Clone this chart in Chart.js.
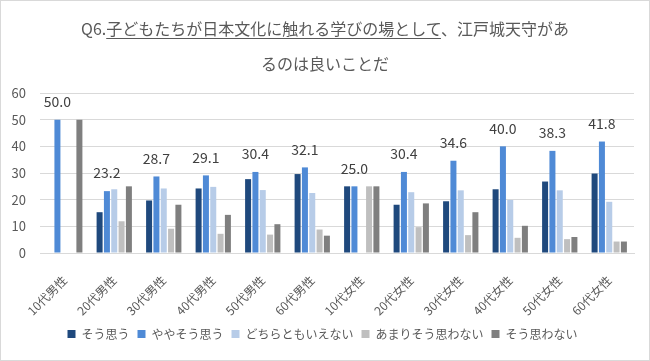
<!DOCTYPE html>
<html>
<head>
<meta charset="utf-8">
<script src="https://cdn.jsdelivr.net/npm/chart.js@4"></script>
<style>
  body { margin: 0; background: #fff; }
  #wrap { position: relative; width: 650px; height: 361px; box-sizing: border-box; border: 1px solid #D9D9D9; background: #fff; }
  #title { position: absolute; left: 0; top: 10px; width: 100%; text-align: center; color: #595959;
           font-family: "Noto Sans CJK JP", sans-serif; font-size: 16px; line-height: 35px; }
  #title u { text-decoration-thickness: 1px; text-underline-offset: 3px; }
  #box { position: absolute; left: 0; top: 0; width: 648px; height: 359px; }
</style>
</head>
<body>
<div id="wrap">
  <div id="box"><canvas id="grafico"></canvas></div>
  <div id="title">
    <div>Q6.<u>子どもたちが日本文化に触れる学びの場として</u>、江戸城天守があ</div>
    <div>るのは良いことだ</div>
  </div>
</div>
<script>
// 回答者区分
const labelsGrupos = ['10代男性', '20代男性', '30代男性', '40代男性', '50代男性', '60代男性',
                      '10代女性', '20代女性', '30代女性', '40代女性', '50代女性', '60代女性'];

// 回答ごとの割合 (%)
const valoresSou      = [0, 15.3, 19.7, 24.2, 27.7, 29.6, 25.0, 18.1, 19.4, 23.9, 26.8, 29.8];
const valoresYaya     = [50.0, 23.2, 28.7, 29.1, 30.4, 32.1, 25.0, 30.4, 34.6, 40.0, 38.3, 41.8];
const valoresDochira  = [0, 23.9, 24.2, 24.8, 23.6, 22.5, 0, 22.8, 23.5, 19.9, 23.5, 19.2];
const valoresAmari    = [0, 11.9, 9.1, 7.2, 6.9, 8.8, 25.0, 9.7, 6.7, 5.7, 5.2, 4.3];
const valoresOmowanai = [50.0, 25.0, 18.1, 14.3, 10.8, 6.5, 25.0, 18.6, 15.3, 10.2, 6.0, 4.3];

const nomesSeries = ['そう思う', 'ややそう思う', 'どちらともいえない', 'あまりそう思わない', 'そう思わない'];
const ticksY = [0, 10, 20, 30, 40, 50, 60];

const fonte = '"Noto Sans CJK JP", sans-serif';

// ややそう思う の値だけ棒の上に表示
const rotuloPlugin = {
    id: 'rotuloYaya',
    afterDatasetsDraw(chart) {
        const ctx = chart.ctx;
        const meta = chart.getDatasetMeta(1);
        ctx.save();
        ctx.font = '14px ' + fonte;
        ctx.fillStyle = '#404040';
        ctx.textAlign = 'center';
        ctx.textBaseline = 'middle';
        meta.data.forEach((bar, i) => {
            ctx.fillText(valoresYaya[i].toFixed(1), bar.x, bar.y - 18);
        });
        ctx.restore();
    }
};

function generateChart() {
    const ctx = document.getElementById('grafico').getContext('2d');
    const cores = ['#1F497D', '#4F8AD6', '#B7CCE8', '#BFBFBF', '#7F7F7F'];
    const valores = [valoresSou, valoresYaya, valoresDochira, valoresAmari, valoresOmowanai];
    new Chart(ctx, {
        type: 'bar',
        data: {
            labels: labelsGrupos,
            datasets: nomesSeries.map((nome, i) => ({
                label: nome,
                data: valores[i],
                backgroundColor: cores[i],
                borderWidth: 0,
                barPercentage: 0.82,
                categoryPercentage: 0.74
            }))
        },
        options: {
            responsive: true,
            maintainAspectRatio: false,
            animation: false,
            layout: { padding: { top: 92, left: 10, right: 15, bottom: 10 } },
            plugins: {
                legend: {
                    position: 'bottom',
                    labels: {
                        boxWidth: 8,
                        boxHeight: 8,
                        padding: 8,
                        color: '#595959',
                        font: { size: 12, family: fonte }
                    }
                },
                tooltip: { enabled: false }
            },
            scales: {
                x: {
                    grid: { display: false },
                    border: { color: '#D9D9D9' },
                    afterFit: (axis) => {
                        axis.height = 67;
                        axis.paddingLeft = 0;
                        axis.paddingRight = 0;
                    },
                    ticks: {
                        color: '#595959',
                        padding: 12,
                        font: { size: 12, family: fonte },
                        minRotation: 45,
                        maxRotation: 45
                    }
                },
                y: {
                    min: 0,
                    max: 60,
                    afterBuildTicks: (axis) => { axis.ticks = ticksY.map(v => ({ value: v })); },
                    afterFit: (axis) => { axis.width = 29; },
                    grid: { color: '#D9D9D9', drawTicks: false },
                    border: { display: false },
                    ticks: {
                        color: '#595959',
                        padding: 14,
                        font: { size: 13, family: fonte }
                    }
                }
            }
        },
        plugins: [rotuloPlugin]
    });
}

generateChart();
</script>
</body>
</html>
